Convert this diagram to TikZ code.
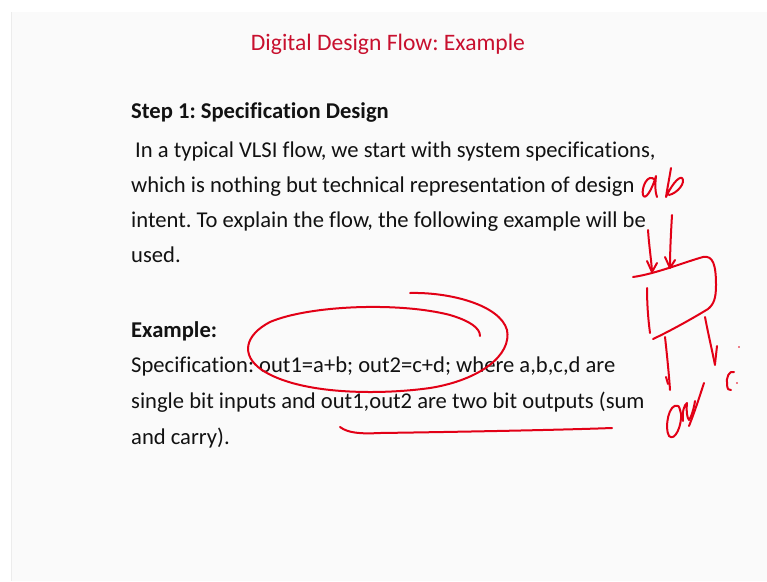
\documentclass[tikz,border=0pt]{standalone}
\usepackage{fontspec}
\setmainfont{Carlito}[Ligatures=NoCommon]
\frenchspacing
\definecolor{titlered}{RGB}{200,16,46}
\definecolor{ink}{RGB}{226,0,22}
\definecolor{slide}{RGB}{250,250,250}
\definecolor{textblack}{RGB}{18,18,18}
\begin{document}
\begin{tikzpicture}[x=1pt,y=-1pt,
  txt/.style={anchor=base west,inner sep=0pt,text=textblack,font=\fontsize{22.6}{27}\selectfont},
  head/.style={txt,font=\fontsize{22.6}{27}\selectfont\bfseries},
  pen/.style={draw=ink,line width=2pt,line cap=round,line join=round}]
\useasboundingbox (0,0) rectangle (767,581);
\fill[white] (0,0) rectangle (767,581);
\fill[slide] (11,12) rectangle (767,581);
\draw[gray!15,line width=0.8pt] (11,12) -- (11,581);

% slide title
\node[anchor=base,inner sep=0pt,text=titlered,font=\fontsize{23.6}{28}\selectfont] (title) at (388,50) {Digital Design Flow: Example};

% step 1 text
\node[head] (step) at (131,118) {Step 1: Specification Design};
\node[txt] (l1) at (135,157) {In a typical VLSI flow, we start with system specifications,};
\node[txt] (l2) at (131,192) {which is nothing but technical representation of design};
\node[txt] (l3) at (131,227) {intent. To explain the flow, the following example will be};
\node[txt] (l4) at (131,262) {used.};

% example text
\node[head] (ex) at (131,337) {Example:};
\node[txt] (s1) at (131,372) {Specification: out1=a+b; out2=c+d; where a,b,c,d are};
\node[txt] (s2) at (131,408) {single bit inputs and out1,out2 are two bit outputs (sum};
\node[txt] (s3) at (131,444) {and carry).};

% hand-drawn loop around the equations
\draw[pen] (410,293) .. controls (450,292) and (500,305) .. (507,330)
  .. controls (512,355) and (480,380) .. (430,388)
  .. controls (380,395) and (300,395) .. (262,370)
  .. controls (240,355) and (245,335) .. (270,322)
  .. controls (310,305) and (400,302) .. (450,315)
  .. controls (470,321) and (480,328) .. (480,336);

% hand-drawn underline
\draw[pen] (340,427) .. controls (348,433) and (360,434) .. (380,433)
  .. controls (450,432) and (560,430) .. (612,428);

% handwritten "ab"
\draw[pen] (655,180) .. controls (648,172) and (641,188) .. (643,195)
  .. controls (645,201) and (652,190) .. (656,176)
  .. controls (655,185) and (655,192) .. (657,197);
\draw[pen] (671,168) .. controls (669,180) and (667,190) .. (666,197)
  .. controls (670,188) and (678,176) .. (682,178)
  .. controls (686,182) and (678,193) .. (669,195);

% input arrows
\draw[pen] (648,230) .. controls (649,245) and (651,258) .. (652,271);
\draw[pen] (647,261) -- (652,272) -- (657,263);
\draw[pen] (672,215) .. controls (671,232) and (670,250) .. (670,267);
\draw[pen] (665,257) -- (670,268) -- (675,260);

% block
\draw[pen] (633,277) .. controls (655,274) and (685,262) .. (703,257)
  .. controls (713,255) and (716,265) .. (716,285)
  .. controls (716,298) and (714,304) .. (708,309)
  .. controls (690,320) and (668,332) .. (653,339);
\draw[pen] (647,288) .. controls (647,303) and (648,318) .. (650,333);

% output arrows
\draw[pen] (665,337) .. controls (667,355) and (669,375) .. (670,390);
\draw[pen] (666,377) -- (668,384);
\draw[pen] (705,317) .. controls (708,333) and (712,350) .. (715,365);
\draw[pen] (717,346) -- (715,364);

% handwritten "Out"
\draw[pen] (678,406) .. controls (669,402) and (664,428) .. (669,436)
  .. controls (675,442) and (682,425) .. (681,414)
  .. controls (680,409) and (679,406) .. (678,406);
\draw[pen] (683,421) .. controls (682,412) and (684,405) .. (687,403)
  .. controls (686,410) and (687,418) .. (689,420)
  .. controls (691,418) and (694,408) .. (695,401);
\draw[pen] (689,426) .. controls (695,411) and (700,395) .. (704,383);

% handwritten "c"
\draw[pen] (734,372) .. controls (729,370) and (726,378) .. (727,384)
  .. controls (727,389) and (729,391) .. (731,390);
\fill[ink] (737,383) circle (0.9);
\fill[ink] (739,347) circle (0.9);
\end{tikzpicture}
\end{document}
